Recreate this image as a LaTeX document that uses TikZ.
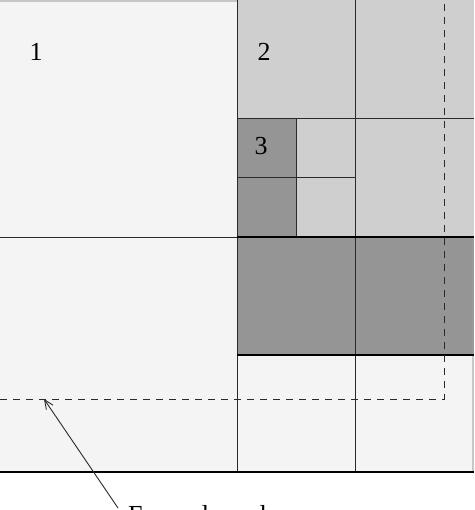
\documentclass[tikz,border=0pt]{standalone}
\usepackage{fontspec}
\setmainfont{Liberation Serif}
\usetikzlibrary{arrows.meta}
\definecolor{lightfill}{HTML}{F4F4F4}
\definecolor{midfill}{HTML}{CFCFCF}
\definecolor{darkfill}{HTML}{959595}
\definecolor{linec}{HTML}{2A2A2A}
\tikzset{
  thinline/.style={draw=linec, line width=0.9pt},
  thickline/.style={draw=black, line width=1.8pt},
  querybox/.style={draw=linec, line width=1pt, dash pattern=on 7pt off 6pt},
  numlabel/.style={font=\fontsize{26}{28}\selectfont, inner sep=0pt},
}
\begin{document}
\begin{tikzpicture}[x=1pt,y=-1pt]
\useasboundingbox (0,0) rectangle (474,510);
\fill[white] (0,0) rectangle (474,510);
% fills
\fill[lightfill] (0,0) rectangle (474,472);
\fill[midfill] (237,0) rectangle (474,237);
\fill[darkfill] (237,118) rectangle (296,237);
\fill[darkfill] (237,237) rectangle (474,355);
\fill[gray!45] (0,0) rectangle (237,2);
\fill[gray!45] (472,355) rectangle (474,472);
\fill[gray!80] (472,237) rectangle (474,355);
% thin grid lines
\draw[thinline] (237,0) -- (237,472);
\draw[thinline] (355,0) -- (355,472);
\draw[thinline] (237,118) -- (474,118);
\draw[thinline] (0,237) -- (237,237);
\draw[thinline] (237,177) -- (355,177);
\draw[thinline] (296,118) -- (296,237);
% thick lines
\draw[thickline] (237,237) -- (474,237);
\draw[thickline] (237,355) -- (474,355);
\draw[thickline] (0,472) -- (474,472);
% region labels
\node[numlabel] (n1) at (36,52) {1};
\node[numlabel] (n2) at (264,52) {2};
\node[numlabel] (n3) at (261,146) {3};
% dashed query region
\draw[querybox] (0,399) -- (444,399) -- (444,0);
% label (cut off by the lower edge, as in the reference) and arrow
\node[font=\fontsize{26}{28}\selectfont, inner sep=0pt, anchor=base west] (lbl) at (128,523) {Example node};
\coordinate (tip) at (44,399);
\coordinate (from) at (118,508);
\draw[linec, line width=0.9pt, -{Straight Barb[length=9pt,width=8pt]}] (from) -- (tip);
\end{tikzpicture}
\end{document}
